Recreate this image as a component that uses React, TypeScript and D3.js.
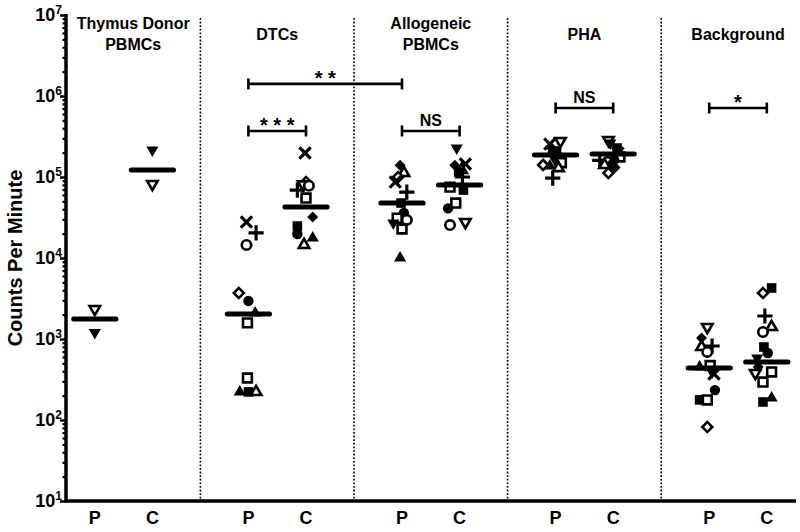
import React, { useEffect, useRef } from 'react';
import * as d3 from 'd3';

// [marker, counts per minute, horizontal jitter in column units]
type Pt = [string, number, number];

const groups = ['Thymus Donor|PBMCs', 'DTCs', 'Allogeneic|PBMCs', 'PHA', 'Background'];
const conditions = ['P', 'C'];

const thymusP: Pt[] = [['tDo', 2340, 0], ['tD', 1200, 0]];
const thymusC: Pt[] = [['tD', 215000, 0], ['tDo', 82000, 0]];

const dtcP: Pt[] = [
  ['x', 27800, -0.1], ['plus', 20400, 0.4], ['cio', 14500, -0.1], ['dio', 3700, -0.5],
  ['ci', 2950, 0], ['tU', 2100, 0.35], ['sqo', 1580, -0.05], ['sqo', 330, -0.05],
  ['tU', 222, -0.45], ['sq', 222, 0], ['tUo', 222, 0.4],
];
const dtcC: Pt[] = [
  ['x', 198000, -0.05], ['dio', 86700, 0], ['tDo', 81000, -0.15], ['cio', 78000, 0.15],
  ['plus', 69000, -0.45], ['sqo', 55000, 0], ['di', 32000, 0.35], ['sq', 24800, -0.45],
  ['ci', 19800, -0.45], ['tU', 17700, 0.35], ['tUo', 14500, -0.1],
];

const alloP: Pt[] = [
  ['di', 140000, -0.1], ['tUo', 112000, 0.1], ['dio', 100000, -0.2], ['x', 86700, -0.35],
  ['plus', 65000, 0.25], ['sq', 47700, -0.05], ['ci', 36000, 0.1], ['sqo', 31000, -0.25],
  ['cio', 29500, 0.25], ['tD', 27000, -0.45], ['sqo', 22800, 0], ['tU', 10000, -0.1],
];
const alloC: Pt[] = [
  ['tD', 228000, -0.15], ['di', 140000, -0.25], ['x', 145000, 0.3], ['tUo', 122000, 0.1],
  ['sq', 115000, -0.05], ['plus', 100000, 0.15], ['sqo', 75000, -0.5], ['sq', 69000, 0.2],
  ['sqo', 47700, -0.2], ['ci', 41000, -0.6], ['tDo', 27800, 0.3], ['cio', 25500, -0.5],
];

const phaP: Pt[] = [
  ['tDo', 278000, 0.25], ['x', 255000, -0.3], ['di', 226000, -0.2], ['sq', 210000, 0.05],
  ['ci', 198000, -0.15], ['cio', 172000, 0.2], ['tD', 158000, 0], ['sqo', 150000, 0.3],
  ['dio', 141000, -0.65], ['tU', 137000, -0.3], ['tUo', 129000, 0.15], ['plus', 97000, -0.15],
];
const phaC: Pt[] = [
  ['tDo', 286000, -0.25], ['tD', 263000, -0.15], ['sq', 228000, 0.2], ['x', 198000, 0.25],
  ['sqo', 177000, 0.35], ['ci', 162000, 0.05], ['plus', 160000, -0.7], ['cio', 153000, -0.3],
  ['tU', 148000, -0.1], ['tUo', 141000, -0.45], ['di', 131000, 0.1], ['dio', 112000, -0.25],
];

const bgP: Pt[] = [
  ['tDo', 1406, -0.1], ['di', 1028, -0.4], ['plus', 820, 0.15], ['tUo', 796, -0.4],
  ['cio', 692, -0.1], ['sqo', 470, 0.05], ['tU', 450, -0.5], ['tD', 392, 0.15],
  ['x', 370, 0.25], ['ci', 234, 0.3], ['sq', 177, -0.5], ['sqo', 177, -0.1], ['dio', 82, -0.1],
];
const bgC: Pt[] = [
  ['sq', 4266, 0.25], ['dio', 3698, -0.2], ['plus', 1923, -0.1], ['tUo', 1406, 0.25],
  ['cio', 1219, -0.2], ['sq', 796, -0.15], ['ci', 672, 0.05], ['tD', 582, -0.5],
  ['di', 451, -0.45], ['sqo', 392, 0.25], ['tDo', 380, -0.6], ['sqo', 294, -0.2],
  ['tU', 187, 0.25], ['sq', 167, -0.2],
];

const columns = [thymusP, thymusC, dtcP, dtcC, alloP, alloC, phaP, phaC, bgP, bgC];
const medians = [1770, 122000, 2040, 42700, 47700, 79600, 187000, 192000, 439, 520];

const brackets = [
  { from: 2, to: 4, at: 1410000, label: '* *' },
  { from: 2, to: 3, at: 370000, label: '* * *' },
  { from: 4, to: 5, at: 370000, label: 'NS' },
  { from: 6, to: 7, at: 711000, label: 'NS' },
  { from: 8, to: 9, at: 711000, label: '*' },
];

const decades = [1, 2, 3, 4, 5, 6, 7];

const FONT = '"Liberation Sans", Arial, Helvetica, sans-serif';

// column slot: P at 1.5, C at 4.5 within each 8-unit group
const colPos = (i: number) => 1.5 + 8 * Math.floor(i / 2) + 3 * (i % 2);

const crossPath = (r: number, diag: boolean) => {
  const p = d3.path();
  if (diag) {
    p.moveTo(-r, -r); p.lineTo(r, r);
    p.moveTo(-r, r); p.lineTo(r, -r);
  } else {
    p.moveTo(-r, 0); p.lineTo(r, 0);
    p.moveTo(0, -r); p.lineTo(0, r);
  }
  return p.toString();
};

const markers: Record<string, { d: string; fill: string; stroke: string; sw: number; rot: number }> = {
  tD: { d: d3.symbol(d3.symbolTriangle, 64)()!, fill: '#000', stroke: 'none', sw: 0, rot: 180 },
  tDo: { d: d3.symbol(d3.symbolTriangle, 48)()!, fill: '#fff', stroke: '#000', sw: 2.6, rot: 180 },
  tU: { d: d3.symbol(d3.symbolTriangle, 64)()!, fill: '#000', stroke: 'none', sw: 0, rot: 0 },
  tUo: { d: d3.symbol(d3.symbolTriangle, 48)()!, fill: '#fff', stroke: '#000', sw: 2.6, rot: 0 },
  sq: { d: d3.symbol(d3.symbolSquare, 92)()!, fill: '#000', stroke: 'none', sw: 0, rot: 0 },
  sqo: { d: d3.symbol(d3.symbolSquare, 78)()!, fill: '#fff', stroke: '#000', sw: 2.6, rot: 0 },
  ci: { d: d3.symbol(d3.symbolCircle, 85)()!, fill: '#000', stroke: 'none', sw: 0, rot: 0 },
  cio: { d: d3.symbol(d3.symbolCircle, 70)()!, fill: '#fff', stroke: '#000', sw: 2.6, rot: 0 },
  di: { d: d3.symbol(d3.symbolSquare, 60)()!, fill: '#000', stroke: 'none', sw: 0, rot: 45 },
  dio: { d: d3.symbol(d3.symbolSquare, 50)()!, fill: '#fff', stroke: '#000', sw: 2.6, rot: 45 },
  x: { d: crossPath(4.5, true), fill: 'none', stroke: '#000', sw: 3.2, rot: 0 },
  plus: { d: crossPath(6, false), fill: 'none', stroke: '#000', sw: 3.2, rot: 0 },
};

const App = () => {
  const ref = useRef<SVGSVGElement>(null);

  useEffect(() => {
    const svg = d3.select(ref.current);
    svg.selectAll('*').remove();

    const width = 800;
    const axisX = 66;
    const axisY = 501;

    const x = d3.scaleLinear().domain([0, 39]).range([axisX, axisX + 39 * 19.2]);
    const y = d3.scaleLog().domain([10, 1e7]).range([axisY, 15]);
    const unit = x(1) - x(0);

    // dotted panel dividers
    svg.append('g')
      .selectAll('line')
      .data(d3.range(4))
      .join('line')
      .attr('x1', g => x(7 + 8 * g))
      .attr('x2', g => x(7 + 8 * g))
      .attr('y1', 18)
      .attr('y2', axisY)
      .attr('stroke', '#000')
      .attr('stroke-width', 1.6)
      .attr('stroke-dasharray', '1.8,1.8');

    // y axis ticks
    const minor = decades.slice(0, -1).flatMap(e => d3.range(2, 10).map(m => m * 10 ** e));
    const yAxis = svg.append('g').attr('transform', `translate(${axisX},0)`);
    yAxis.call(d3.axisLeft(y).tickValues(minor).tickSize(3.5).tickFormat(() => ''))
      .call(g => g.select('.domain').remove())
      .selectAll('line').attr('stroke-width', 2.2);
    const yMajor = svg.append('g').attr('transform', `translate(${axisX},0)`);
    yMajor.call(d3.axisLeft(y).tickValues(decades.map(e => 10 ** e)).tickSize(6).tickFormat(() => ''))
      .call(g => g.select('.domain').remove())
      .selectAll('line').attr('stroke-width', 2.5);

    const labels = svg.append('g')
      .attr('font-family', FONT)
      .attr('font-weight', 'bold')
      .attr('text-anchor', 'end');
    decades.forEach(e => {
      const t = labels.append('text')
        .attr('x', axisX - 4)
        .attr('y', y(10 ** e) + 6)
        .attr('font-size', 18);
      t.append('tspan').text('10');
      t.append('tspan').attr('font-size', 12).attr('dy', -7).text(String(e));
    });

    // axis lines
    svg.append('line')
      .attr('x1', axisX).attr('x2', axisX)
      .attr('y1', 14).attr('y2', axisY + 1.5)
      .attr('stroke', '#000').attr('stroke-width', 3.5);
    svg.append('line')
      .attr('x1', axisX - 1.5).attr('x2', width - 4)
      .attr('y1', axisY).attr('y2', axisY)
      .attr('stroke', '#000').attr('stroke-width', 3.5);

    // y title
    svg.append('text')
      .attr('transform', `translate(22,258) rotate(-90)`)
      .attr('text-anchor', 'middle')
      .attr('font-family', FONT)
      .attr('font-weight', 'bold')
      .attr('font-size', 20)
      .text('Counts Per Minute');

    // P / C labels
    svg.append('g')
      .selectAll('text')
      .data(columns.map((_, i) => i))
      .join('text')
      .attr('x', i => x(colPos(i)))
      .attr('y', 524)
      .attr('text-anchor', 'middle')
      .attr('font-family', FONT)
      .attr('font-weight', 'bold')
      .attr('font-size', 18)
      .text(i => conditions[i % 2]);

    // group headers
    groups.forEach((name, g) => {
      const cx = g === 0 ? x(3.5) : x(8 * g + 3);
      const lines = name.split('|');
      const base = lines.length > 1 ? 29 : 39.5;
      lines.forEach((ln, k) => {
        svg.append('text')
          .attr('x', cx)
          .attr('y', base + k * 20.5)
          .attr('text-anchor', 'middle')
          .attr('font-family', FONT)
          .attr('font-weight', 'bold')
          .attr('font-size', 16)
          .text(ln);
      });
    });

    // points
    columns.forEach((pts, i) => {
      svg.append('g')
        .selectAll('path')
        .data(pts)
        .join('path')
        .attr('d', d => markers[d[0]].d)
        .attr('transform', d => `translate(${x(colPos(i) + d[2])},${y(d[1])}) rotate(${markers[d[0]].rot})`)
        .attr('fill', d => markers[d[0]].fill)
        .attr('stroke', d => markers[d[0]].stroke)
        .attr('stroke-width', d => markers[d[0]].sw)
        .attr('stroke-linecap', 'square');
    });

    // median lines
    svg.append('g')
      .selectAll('line')
      .data(medians)
      .join('line')
      .attr('x1', (_, i) => x(colPos(i)) - 1.1 * unit)
      .attr('x2', (_, i) => x(colPos(i)) + 1.1 * unit)
      .attr('y1', d => y(d))
      .attr('y2', d => y(d))
      .attr('stroke', '#000')
      .attr('stroke-width', 5)
      .attr('stroke-linecap', 'round');

    // significance brackets
    brackets.forEach(b => {
      const x1 = x(colPos(b.from));
      const x2 = x(colPos(b.to));
      const yy = y(b.at);
      const g = svg.append('g').attr('stroke', '#000').attr('stroke-width', 2.6);
      g.append('line').attr('x1', x1).attr('x2', x2).attr('y1', yy).attr('y2', yy);
      g.append('line').attr('x1', x1).attr('x2', x1).attr('y1', yy - 5.5).attr('y2', yy + 5.5);
      g.append('line').attr('x1', x2).attr('x2', x2).attr('y1', yy - 5.5).attr('y2', yy + 5.5);
      const star = b.label.includes('*');
      svg.append('text')
        .attr('x', (x1 + x2) / 2)
        .attr('y', star ? yy + 1 : yy - 5)
        .attr('text-anchor', 'middle')
        .attr('font-family', FONT)
        .attr('font-weight', 'bold')
        .attr('font-size', star ? 20 : 16)
        .text(b.label);
    });
  }, []);

  return (
    <svg
      ref={ref}
      width={800}
      height={532}
      style={{ position: 'absolute', left: 0, top: 0, background: '#fff' }}
    />
  );
};

export default App;
